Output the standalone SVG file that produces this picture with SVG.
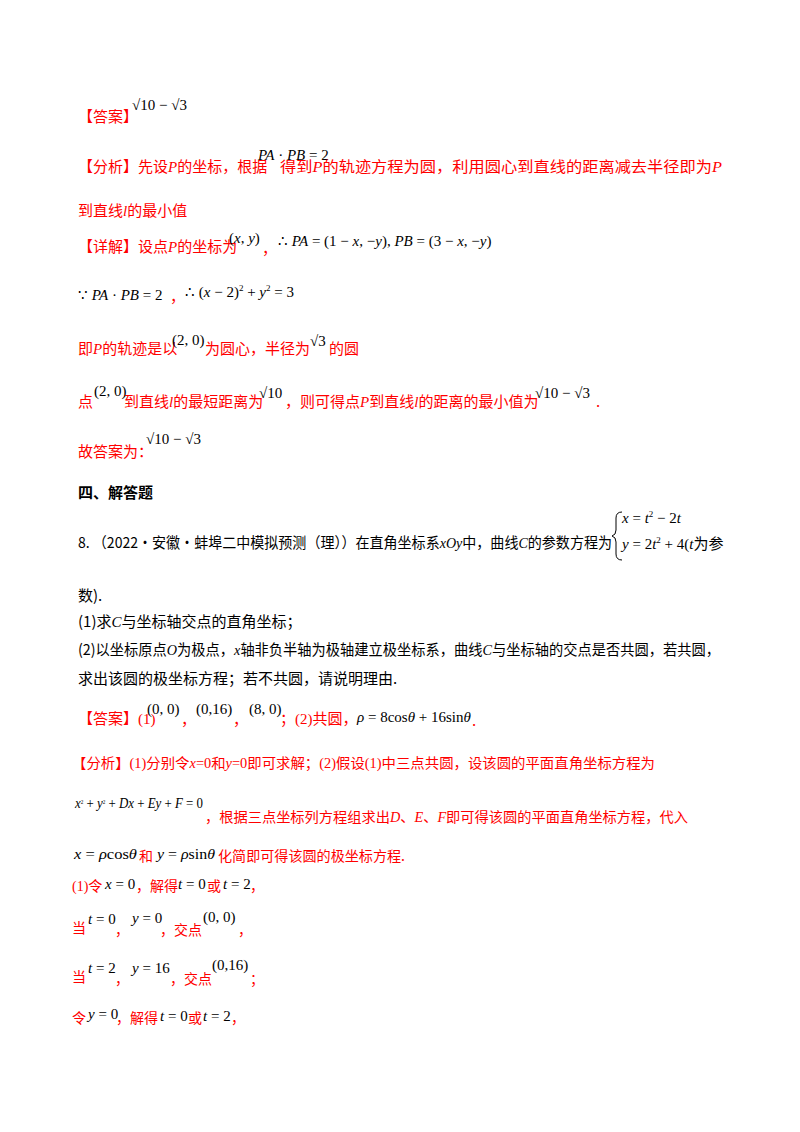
<svg xmlns="http://www.w3.org/2000/svg" width="800" height="1132" viewBox="0 0 800 1132">
<style>
text{font-family:"Noto Sans CJK SC","Liberation Serif",sans-serif;font-size:15px}
.r{fill:#ff0000}
.k{fill:#000}
.m{font-family:"Liberation Serif",serif;font-size:15px;fill:#000}
.i{font-style:italic;font-family:"Liberation Serif",serif}
.b{font-weight:bold}
.c{font-size:14px}
</style>
<rect width="800" height="1132" fill="#fff"/>
<text x="78" y="122" class="r">【答案】</text>
<text x="132" y="110" class="m">√10 − √3</text>

<text x="78" y="172" class="r">【分析】先设<tspan class="i">P</tspan>的坐标，根据</text>
<text x="258" y="160" class="m"><tspan class="i">PA</tspan> · <tspan class="i">PB</tspan> = 2</text>
<text x="280" y="172" class="r" textLength="442" lengthAdjust="spacingAndGlyphs">得到<tspan class="i">P</tspan>的轨迹方程为圆，利用圆心到直线的距离减去半径即为<tspan class="i">P</tspan></text>
<text x="78" y="216" class="r">到直线<tspan class="i">l</tspan>的最小值</text>

<text x="78" y="252" class="r">【详解】设点<tspan class="i">P</tspan>的坐标为</text>
<text x="229" y="243" class="m">(<tspan class="i">x</tspan>, <tspan class="i">y</tspan>)</text>
<text x="262" y="254" class="r">，</text>
<text x="278" y="246" class="m">∴ <tspan class="i">PA</tspan> = (1 − <tspan class="i">x</tspan>, −<tspan class="i">y</tspan>), <tspan class="i">PB</tspan> = (3 − <tspan class="i">x</tspan>, −<tspan class="i">y</tspan>)</text>

<text x="78" y="300" class="m">∵  <tspan class="i">PA</tspan> · <tspan class="i">PB</tspan> = 2</text>
<text x="170" y="302" class="r">，</text>
<text x="185" y="297" class="m">∴ (<tspan class="i">x</tspan> − 2)<tspan dy="-6" font-size="9">2</tspan><tspan dy="6"> + </tspan><tspan class="i">y</tspan><tspan dy="-6" font-size="9">2</tspan><tspan dy="6"> = 3</tspan></text>

<text x="78" y="354" class="r">即<tspan class="i">P</tspan>的轨迹是以</text>
<text x="172" y="345" class="m">(2, 0)</text>
<text x="205" y="354" class="r">为圆心，半径为</text>
<text x="310" y="346" class="m">√3</text>
<text x="329" y="354" class="r">的圆</text>

<text x="78" y="407" class="r">点</text>
<text x="94" y="396" class="m">(2, 0)</text>
<text x="124" y="407" class="r">到直线<tspan class="i">l</tspan>的最短距离为</text>
<text x="259" y="398" class="m">√10</text>
<text x="285" y="407" class="r">，则可得点<tspan class="i">P</tspan>到直线<tspan class="i">l</tspan>的距离的最小值为</text>
<text x="535" y="398" class="m">√10 − √3</text>
<text x="596" y="407" class="r">.</text>

<text x="78" y="457" class="r">故答案为：</text>
<text x="146" y="444" class="m">√10 − √3</text>

<text x="78" y="498" class="k b">四、解答题</text>

<text x="78" y="548" class="k" textLength="534" lengthAdjust="spacingAndGlyphs">8.  （2022·安徽·蚌埠二中模拟预测（理））在直角坐标系<tspan class="i">xOy</tspan>中，曲线<tspan class="i">C</tspan>的参数方程为</text>
<path d="M622,512 Q616,512 616,518 L616,530 Q616,535 612,536 Q616,537 616,542 L616,554 Q616,560 622,560" fill="none" stroke="#000" stroke-width="1"/>
<text x="622" y="523" class="m"><tspan class="i">x</tspan> = <tspan class="i">t</tspan><tspan dy="-6" font-size="9">2</tspan><tspan dy="6"> − 2</tspan><tspan class="i">t</tspan></text>
<text x="622" y="549" class="m"><tspan class="i">y</tspan> = 2<tspan class="i">t</tspan><tspan dy="-6" font-size="9">2</tspan><tspan dy="6"> + 4(</tspan><tspan class="i">t</tspan><tspan font-family="Noto Sans CJK SC">为参</tspan></text>
<text x="78" y="601" class="k">数).</text>
<text x="78" y="627" class="k">(1)求<tspan class="i">C</tspan>与坐标轴交点的直角坐标；</text>
<text x="78" y="655" class="k" textLength="642" lengthAdjust="spacingAndGlyphs">(2)以坐标原点<tspan class="i">O</tspan>为极点，<tspan class="i">x</tspan>轴非负半轴为极轴建立极坐标系，曲线<tspan class="i">C</tspan>与坐标轴的交点是否共圆，若共圆，</text>
<text x="78" y="684" class="k">求出该圆的极坐标方程；若不共圆，请说明理由.</text>

<text x="78" y="724" class="r">【答案】<tspan font-family="Liberation Serif">(1)</tspan></text>
<text x="147" y="714" class="m">(0, 0)</text>
<text x="181" y="725" class="r">，</text>
<text x="196" y="714" class="m">(0,16)</text>
<text x="233" y="725" class="r">，</text>
<text x="249" y="714" class="m">(8, 0)</text>
<text x="280" y="724" class="r">；<tspan font-family="Liberation Serif">(2)</tspan>共圆，</text>
<text x="357" y="722" class="m"><tspan class="i">ρ</tspan> = 8cos<tspan class="i">θ</tspan> + 16sin<tspan class="i">θ</tspan></text>
<text x="472" y="726" class="r">.</text>

<text x="72" y="768" class="r c" textLength="583" lengthAdjust="spacingAndGlyphs">【分析】<tspan font-family="Liberation Serif">(1)</tspan>分别令<tspan class="i">x</tspan><tspan font-family="Liberation Serif">=0</tspan>和<tspan class="i">y</tspan><tspan font-family="Liberation Serif">=0</tspan>即可求解；<tspan font-family="Liberation Serif">(2)</tspan>假设<tspan font-family="Liberation Serif">(1)</tspan>中三点共圆，设该圆的平面直角坐标方程为</text>
<text x="75" y="808" class="m" font-size="10" textLength="128" lengthAdjust="spacingAndGlyphs"><tspan class="i">x</tspan><tspan dy="-4" font-size="6">2</tspan><tspan dy="4"> + </tspan><tspan class="i">y</tspan><tspan dy="-4" font-size="6">2</tspan><tspan dy="4"> + </tspan><tspan class="i">Dx</tspan> + <tspan class="i">Ey</tspan> + <tspan class="i">F</tspan> = 0</text>
<text x="205" y="822" class="r c" textLength="483" lengthAdjust="spacingAndGlyphs">，根据三点坐标列方程组求出<tspan class="i">D</tspan>、<tspan class="i">E</tspan>、<tspan class="i">F</tspan>即可得该圆的平面直角坐标方程，代入</text>
<text x="74" y="859" class="m" textLength="63" lengthAdjust="spacingAndGlyphs"><tspan class="i">x</tspan> = <tspan class="i">ρ</tspan>cos<tspan class="i">θ</tspan></text>
<text x="139" y="861" class="r c">和</text>
<text x="157" y="859" class="m" textLength="58" lengthAdjust="spacingAndGlyphs"><tspan class="i">y</tspan> = <tspan class="i">ρ</tspan>sin<tspan class="i">θ</tspan></text>
<text x="218" y="861" class="r c" textLength="187" lengthAdjust="spacingAndGlyphs">化简即可得该圆的极坐标方程.</text>

<text x="72" y="891" class="r c"><tspan font-family="Liberation Serif">(1)</tspan>令</text>
<text x="105" y="889" class="m"><tspan class="i">x</tspan> = 0</text>
<text x="136" y="891" class="r c">，解得</text>
<text x="178" y="889" class="m"><tspan class="i">t</tspan> = 0</text>
<text x="207" y="891" class="r c">或</text>
<text x="223" y="889" class="m"><tspan class="i">t</tspan> = 2</text>
<text x="250" y="891" class="r c">，</text>

<text x="72" y="933" class="r c">当</text>
<text x="88" y="924" class="m"><tspan class="i">t</tspan> = 0</text>
<text x="115" y="935" class="r c">，</text>
<text x="132" y="923" class="m" font-size="13"><tspan class="i">y</tspan> = 0</text>
<text x="160" y="935" class="r c">，交点</text>
<text x="203" y="922" class="m">(0, 0)</text>
<text x="238" y="935" class="r c">，</text>

<text x="72" y="982" class="r c">当</text>
<text x="88" y="973" class="m"><tspan class="i">t</tspan> = 2</text>
<text x="115" y="984" class="r c">，</text>
<text x="132" y="973" class="m"><tspan class="i">y</tspan> = 16</text>
<text x="170" y="984" class="r c">，交点</text>
<text x="212" y="970" class="m">(0,16)</text>
<text x="250" y="984" class="r c">；</text>

<text x="72" y="1023" class="r c">令</text>
<text x="88" y="1019" class="m" font-size="13"><tspan class="i">y</tspan> = 0</text>
<text x="116" y="1023" class="r c">，解得</text>
<text x="160" y="1021" class="m"><tspan class="i">t</tspan> = 0</text>
<text x="188" y="1023" class="r c">或</text>
<text x="203" y="1021" class="m"><tspan class="i">t</tspan> = 2</text>
<text x="231" y="1023" class="r c">，</text>
</svg>
